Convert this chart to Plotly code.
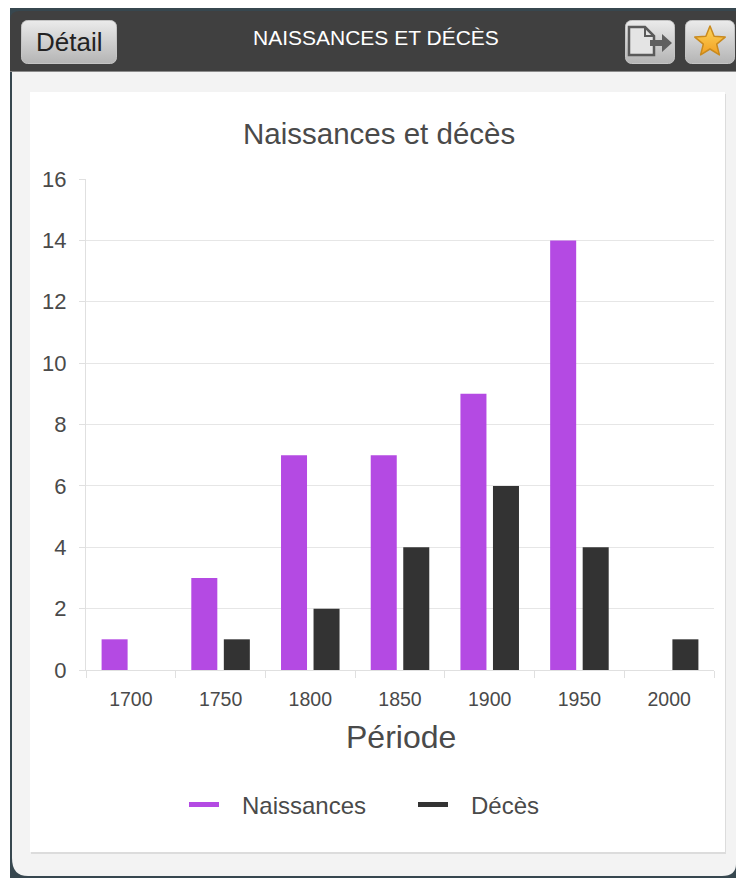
import base64
import math
import plotly.graph_objects as go

periods = ["1700", "1750", "1800", "1850", "1900", "1950", "2000"]
naissances = [1, 3, 7, 7, 9, 14, None]
deces = [None, 1, 2, 4, 6, 4, 1]
y_ticks = [0, 2, 4, 6, 8, 10, 12, 14, 16]
W, H = 736, 878
FONT = "Liberation Sans, Arial, sans-serif"
PURPLE = "#b44ae3"
DARK = "#333333"
TEXT = "#4a4a4a"


def px(x):
    return x / W


def py(y):
    return 1 - y / H


def svg(body, w, h):
    s = f'<svg xmlns="http://www.w3.org/2000/svg" width="{w}" height="{h}" viewBox="0 0 {w} {h}">{body}</svg>'
    return "data:image/svg+xml;base64," + base64.b64encode(s.encode()).decode()


GRAD = ('<defs><linearGradient id="g" x1="0" y1="0" x2="0" y2="1">'
        '<stop offset="0" stop-color="#ebebeb"/><stop offset="1" stop-color="#b4b4b4"/>'
        '</linearGradient>'
        '<linearGradient id="s" x1="0" y1="0" x2="0" y2="1">'
        '<stop offset="0" stop-color="#fcd55a"/><stop offset="1" stop-color="#f29f22"/>'
        '</linearGradient></defs>')


def button(w, h, inner=""):
    return svg(GRAD + f'<rect x="0.5" y="0.5" width="{w-1}" height="{h-1}" rx="6" fill="url(#g)" stroke="#c4c4c4"/>' + inner, w, h)


doc_icon = ('<path d="M4 7H20L29 16V35H4Z" fill="#e4e4e4" stroke="#5a5a5a" stroke-width="2.500"/>'
            '<path d="M20 7V16H29" fill="none" stroke="#5a5a5a" stroke-width="2"/>'
            '<path d="M25 20H37V14L47 23L37 32V26H25Z" fill="#5f5f5f"/>')
star_pts = " ".join(
    f"{25 + (16 if i % 2 == 0 else 7) * math.sin(i * math.pi / 5):.1f},"
    f"{22 - (16 if i % 2 == 0 else 7) * math.cos(i * math.pi / 5):.1f}"
    for i in range(10)
)
star_icon = f'<polygon points="{star_pts}" fill="url(#s)" stroke="#c98a1e" stroke-width="1.500" stroke-linejoin="round"/>'


def image(src, x, y, w, h):
    return dict(source=src, xref="paper", yref="paper", x=px(x), y=py(y),
                sizex=w / W, sizey=h / H, xanchor="left", yanchor="top",
                sizing="stretch", layer="above")


def rect(x0, y0, x1, y1, fill):
    return dict(type="rect", xref="paper", yref="paper", x0=px(x0), x1=px(x1),
                y0=py(y0), y1=py(y1), fillcolor=fill, layer="below",
                line=dict(width=0))


def path(d, fill):
    return dict(type="path", xref="paper", yref="paper", path=d, fillcolor=fill,
                layer="below", line=dict(width=0))


def P(x, y):
    return f"{px(x):.5f},{py(y):.5f}"


body_path = (f"M{P(12, 72)}L{P(W, 72)}L{P(W, 864)}Q{P(W, 876)},{P(722, 876)}"
             f"L{P(28, 876)}Q{P(12, 876)},{P(12, 858)}Z")
head_path = (f"M{P(10, 71)}L{P(10, 20)}Q{P(10, 11)},{P(20, 11)}L{P(W, 11)}L{P(W, 71)}Z")

fig = go.Figure()
fig.add_bar(x=periods, y=naissances, name="Naissances", marker_color=PURPLE,
            showlegend=False, marker_line_width=0)
fig.add_bar(x=periods, y=deces, name="Décès", marker_color=DARK,
            showlegend=False, marker_line_width=0)
fig.add_scatter(x=[None], y=[None], mode="lines", name="Naissances",
                line=dict(color=PURPLE, width=5, dash="30px,60px"))
fig.add_scatter(x=[None], y=[None], mode="lines", name="Décès",
                line=dict(color=DARK, width=5, dash="30px,60px"))

shapes = [
    rect(10, 8, W, H, "#37474f"),
    path(head_path, "#404040"),
    rect(10, 71, W, 72, "#8a8a8a"),
    path(body_path, "#f3f3f3"),
    rect(31, 94, 726, 854, "#dcdcdc"),
    rect(30, 92, 725, 852, "#ffffff"),
]
images = [
    image(button(96, 44), 21, 20, 96, 44),
    image(button(50, 44, doc_icon), 625, 20, 50, 44),
    image(button(50, 44, star_icon), 685, 20, 50, 44),
]
annotations = [
    dict(text="Détail", x=px(69), y=py(42), font=dict(size=26, color="#222222")),
    dict(text="NAISSANCES ET DÉCÈS", x=px(376), y=py(38), font=dict(size=21, color="#ffffff")),
    dict(text="Naissances et décès", x=px(378.5), y=py(134), font=dict(size=29.5, color=TEXT)),
    dict(text="Période", x=px(400.5), y=py(737), font=dict(size=32, color=TEXT)),
]
for a in annotations:
    a.update(xref="paper", yref="paper", showarrow=False, xanchor="center", yanchor="middle")

fig.update_layout(
    width=W, height=H, autosize=False,
    margin=dict(l=0, r=0, t=0, b=0, pad=0, autoexpand=False),
    paper_bgcolor="#ffffff", plot_bgcolor="rgba(0,0,0,0)",
    font=dict(family=FONT, color=TEXT),
    barmode="group", bargap=0.275, bargroupgap=0.2,
    shapes=shapes, images=images, annotations=annotations,
    legend=dict(orientation="h", x=px(184), y=py(805), xanchor="left", yanchor="middle",
                font=dict(size=24, color=TEXT), itemwidth=48, bgcolor="rgba(0,0,0,0)",
                entrywidth=166, entrywidthmode="pixels"),
    xaxis=dict(domain=[px(86), px(714)], type="category", tickson="boundaries",
               ticks="outside", ticklen=7, tickcolor="#e0e0e0", tickwidth=1,
               showline=True, linecolor="#e0e0e0", showgrid=False,
               ticklabelstandoff=12, tickfont=dict(size=19.5, color=TEXT)),
    yaxis=dict(domain=[py(670), py(179)], range=[0, 16], tickvals=y_ticks,
               ticks="outside", ticklen=6, tickcolor="#e0e0e0", tickwidth=1,
               showline=True, linecolor="#e0e0e0", gridcolor="#e6e6e6", gridwidth=1,
               ticklabelstandoff=8, zeroline=False, tickfont=dict(size=22, color=TEXT)),
)
fig.write_html("out.html", config=dict(displayModeBar=False),
               post_script="document.body.style.margin='0';")
